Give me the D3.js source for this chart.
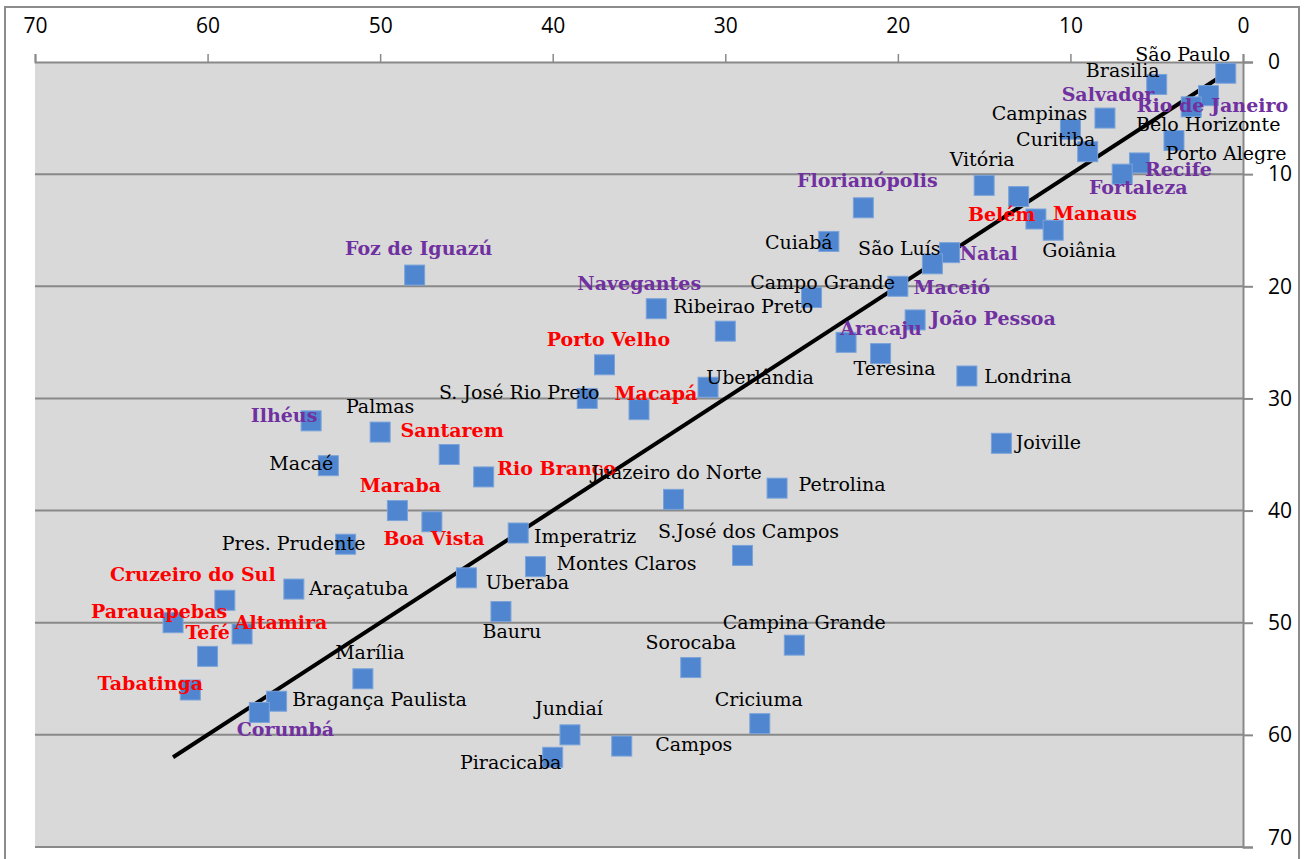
<!DOCTYPE html>
<html>
<head>
<meta charset="utf-8">
<script src="https://cdn.jsdelivr.net/npm/d3@7"></script>
<style>
  html, body { margin: 0; padding: 0; background: #fff; }
  svg { display: block; }
</style>
</head>
<body>
<svg id="chart" width="1308" height="859"></svg>
<script>
// ---- data ----
const cities = ["São Paulo","Brasilia","Rio de Janeiro","Belo Horizonte","Salvador","Campinas","Porto Alegre","Curitiba","Recife","Fortaleza","Vitória","Belém","Florianópolis","Manaus","Goiânia","Cuiabá","Natal","São Luís","Foz de Iguazú","Maceió","Campo Grande","Navegantes","João Pessoa","Ribeirao Preto","Aracaju","Teresina","Porto Velho","Londrina","Uberlândia","S. José Rio Preto","Macapá","Ilhéus","Palmas","Joiville","Santarem","Macaé","Rio Branco","Petrolina","Juazeiro do Norte","Maraba","Boa Vista","Imperatriz","Pres. Prudente","S.José dos Campos","Montes Claros","Uberaba","Araçatuba","Cruzeiro do Sul","Bauru","Parauapebas","Altamira","Campina Grande","Tefé","Sorocaba","Marília","Tabatinga","Bragança Paulista","Corumbá","Criciuma","Jundiaí","Campos","Piracicaba"];
const xRank = [1,5,2,3,8,10,4,9,6,7,15,13,22,12,11,24,17,18,48,20,25,34,19,30,23,21,37,16,31,38,35,54,50,14,46,53,44,27,33,49,47,42,52,29,41,45,55,59,43,62,58,26,60,32,51,61,56,57,28,39,36,40];
const yRank = [1,2,3,4,5,6,7,8,9,10,11,12,13,14,15,16,17,18,19,20,21,22,23,24,25,26,27,28,29,30,31,32,33,34,35,36,37,38,39,40,41,42,43,44,45,46,47,48,49,50,51,52,53,54,55,56,57,58,59,60,61,62];
// category: n = normal, r = red (north), p = purple
const category = ["n","n","p","n","p","n","n","n","p","p","n","r","p","r","n","n","p","n","p","p","n","p","p","n","p","n","r","n","n","n","r","p","n","n","r","n","r","n","n","r","r","n","n","n","n","n","n","r","n","r","r","n","r","n","n","r","n","p","n","n","n","n"];
const trendX = [62, 1];
const trendY = [62, 1];
const xTicks = [70,60,50,40,30,20,10,0];
const yTicks = [0,10,20,30,40,50,60,70];

// ---- layout (label offsets in px from marker centre) ----
const labelOffset = {
  "São Paulo":[-43,-19],"Brasilia":[-34,-14],"Rio de Janeiro":[4,9],"Belo Horizonte":[17,17],
  "Salvador":[3,-24],"Campinas":[-31,-16],"Porto Alegre":[52,12],"Curitiba":[-32,-13],
  "Recife":[39,6],"Fortaleza":[16,13],"Vitória":[-2,-26],"Belém":[-17,17],"Florianópolis":[4,-28],
  "Manaus":[59,-6],"Goiânia":[26,20],"Cuiabá":[-30,1],"Natal":[39,0],"São Luís":[-33,-16],
  "Foz de Iguazú":[4,-27],"Maceió":[54,1],"Campo Grande":[11,-16],"Navegantes":[-17,-26],
  "João Pessoa":[78,-2],"Ribeirao Preto":[18,-25],"Aracaju":[35,-14],"Teresina":[14,14],
  "Porto Velho":[4,-26],"Londrina":[61,0],"Uberlândia":[52,-10],"S. José Rio Preto":[-68,-6],
  "Macapá":[17,-17],"Ilhéus":[-27,-6],"Palmas":[0,-26],"Joiville":[47,-1],"Santarem":[3,-25],
  "Macaé":[-27,-3],"Rio Branco":[73,-9],"Petrolina":[65,-4],"Juazeiro do Norte":[3,-27],
  "Maraba":[3,-26],"Boa Vista":[2,16],"Imperatriz":[67,3],"Pres. Prudente":[-52,-1],
  "S.José dos Campos":[6,-24],"Montes Claros":[91,-4],"Uberaba":[61,4],"Araçatuba":[65,-1],
  "Cruzeiro do Sul":[-32,-26],"Bauru":[11,19],"Parauapebas":[-14,-12],"Altamira":[39,-12],
  "Campina Grande":[10,-23],"Tefé":[0,-24],"Sorocaba":[0,-26],"Marília":[7,-27],
  "Tabatinga":[-40,-7],"Bragança Paulista":[103,-2],"Corumbá":[26,17],"Criciuma":[-1,-25],
  "Jundiaí":[-1,-27],"Campos":[72,-2],"Piracicaba":[-42,5]
};
const catColor = { n: "#000000", r: "#FF0000", p: "#7030A0" };

const svg = d3.select("#chart");
const W = 1308, H = 859;
const plot = { left: 35, right: 1243, top: 62, bottom: 847 };

// outer border
svg.append("rect").attr("x", 5).attr("y", 7).attr("width", 1294).attr("height", 870)
  .attr("fill", "#fff").attr("stroke", "#8c8c8c").attr("stroke-width", 2);

const x = d3.scaleLinear().domain([70, 0]).range([plot.left, plot.right]);
const y = d3.scaleLinear().domain([0, 70]).range([plot.top, plot.bottom]);

// plot background
svg.append("rect").attr("x", plot.left).attr("y", plot.top)
  .attr("width", plot.right - plot.left).attr("height", plot.bottom - plot.top)
  .attr("fill", "#D9D9D9");

// gridlines
svg.append("g").selectAll("line").data(yTicks.filter(d => d > 0)).join("line")
  .attr("x1", plot.left).attr("x2", plot.right)
  .attr("y1", d => y(d)).attr("y2", d => y(d))
  .attr("stroke", "#898989").attr("stroke-width", 2);

// top axis
const gx = svg.append("g").attr("transform", `translate(0,${plot.top})`)
  .call(d3.axisTop(x).tickValues(xTicks).tickSize(8).tickPadding(21).tickFormat(d3.format("d")));
gx.select(".domain").attr("stroke", "#898989").attr("stroke-width", 2);
gx.selectAll(".tick line").attr("stroke", "#898989").attr("stroke-width", 1.5);
gx.selectAll(".tick text").attr("font-family", "'Open Sans', sans-serif").attr("font-size", 21).attr("fill", "#000");

// right axis
const gy = svg.append("g").attr("transform", `translate(${plot.right},0)`)
  .call(d3.axisRight(y).tickValues(yTicks).tickSize(10).tickPadding(15).tickFormat(d3.format("d")));
gy.select(".domain").attr("stroke", "#898989").attr("stroke-width", 2);
gy.selectAll(".tick line").attr("stroke", "#898989").attr("stroke-width", 2);
gy.selectAll(".tick text").attr("font-family", "'Open Sans', sans-serif").attr("font-size", 21).attr("fill", "#000")
  .attr("dy", d => d === 70 ? "-0.1em" : "0.32em");

// trend line
const line = d3.line().x(d => x(d[0])).y(d => y(d[1]));
svg.append("path").datum(trendX.map((v, i) => [v, trendY[i]]))
  .attr("d", line).attr("stroke", "#000").attr("stroke-width", 4).attr("fill", "none");

// markers
const pts = cities.map((c, i) => ({ name: c, x: xRank[i], y: yRank[i], cat: category[i] }));
const ms = 20;
svg.append("g").selectAll("rect").data(pts).join("rect")
  .attr("x", d => x(d.x) - ms / 2).attr("y", d => y(d.y) - ms / 2)
  .attr("width", ms).attr("height", ms)
  .attr("fill", "#4F86CF").attr("stroke", "#7BA3DA").attr("stroke-width", 1);

// labels
svg.append("g").selectAll("text").data(pts).join("text")
  .attr("x", d => x(d.x) + labelOffset[d.name][0])
  .attr("y", d => y(d.y) + labelOffset[d.name][1])
  .attr("text-anchor", "middle").attr("dominant-baseline", "central")
  .attr("font-family", "'DejaVu Serif', serif").attr("font-size", 19)
  .attr("font-weight", d => d.cat === "n" ? "normal" : "bold")
  .attr("fill", d => catColor[d.cat])
  .text(d => d.name);
</script>
</body>
</html>
